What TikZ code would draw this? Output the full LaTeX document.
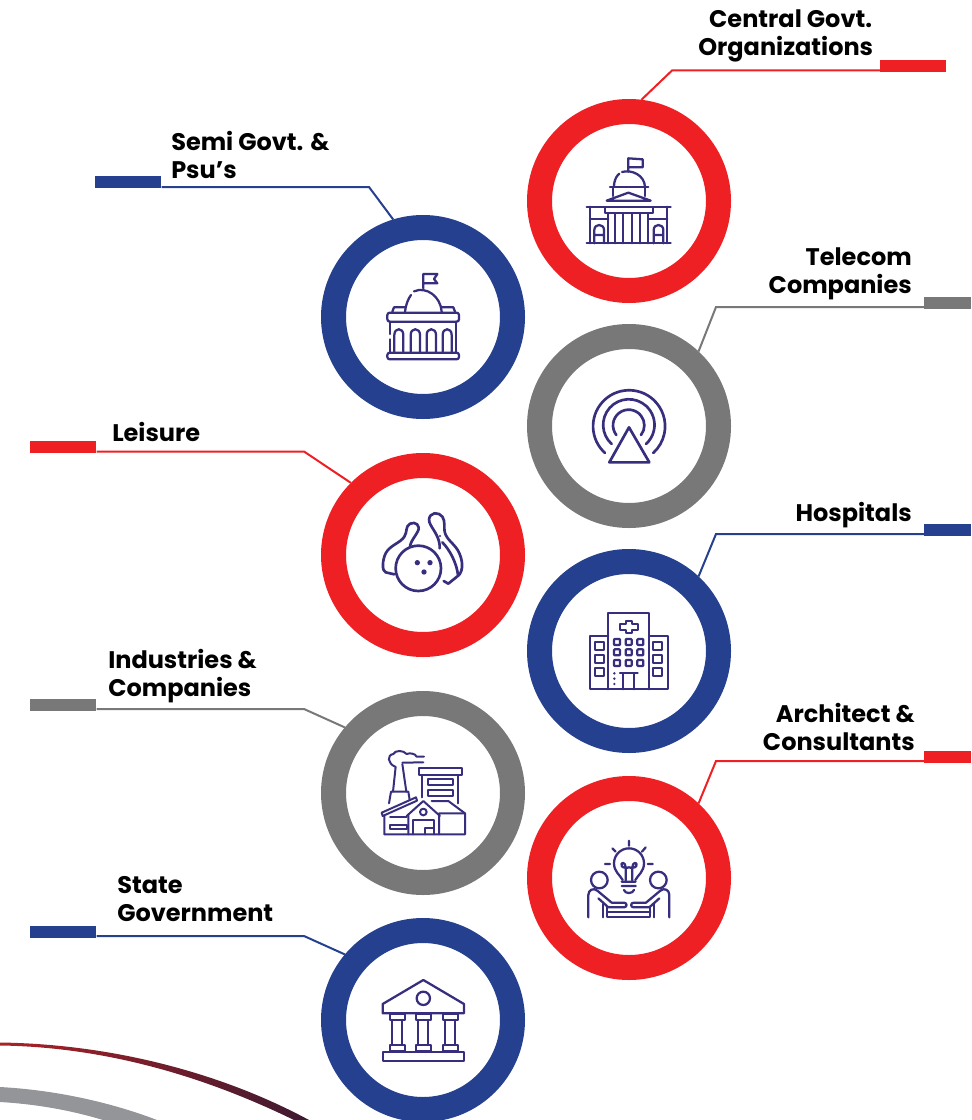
\documentclass[tikz,border=0pt]{standalone}
\usepackage{fontspec}
\setmainfont{Poppins}
\definecolor{cred}{HTML}{EE2024}
\definecolor{cblue}{HTML}{24408E}
\definecolor{cgray}{HTML}{777877}
\definecolor{cicon}{HTML}{372F7D}
\definecolor{cband}{HTML}{939598}
\tikzset{
  x=.75pt,y=-.75pt,
  ring/.style={circle,draw=#1,line width=18.75pt,fill=white,minimum size=134.25pt,inner sep=0pt},
  barb/.style={fill=#1,inner sep=0pt,minimum height=9pt,anchor=north west},
  lead/.style={draw=#1,line width=1.5pt},
  lab/.style={font=\fontsize{18}{21}\selectfont\bfseries,inner sep=0pt,text=black},
  icon/.style={draw=cicon,line width=1.7pt,line cap=round,line join=round,fill=none},
  sc/.style={x=.25pt,y=-.25pt}
}
\begin{document}
\begin{tikzpicture}
\useasboundingbox (0,0) rectangle (971,1120);
\clip (0,0) rectangle (971,1120);
% background swooshes
\path[left color=cred!70!black!95,right color=cred!30!black!70!cblue,shading angle=90] (0,1042.5) .. controls (110,1044) and (220,1072) .. (309,1120) -- (294,1120) .. controls (210,1079) and (110,1047) .. (0,1045.5) -- cycle;
\fill[cband] (0,1087) .. controls (55,1090) and (110,1102) .. (157,1120) -- (103,1120) .. controls (70,1110) and (35,1104) .. (0,1102) -- cycle;
% rings
\node[ring=cred]  (c1) at (629,201) {};
\node[ring=cblue] (c2) at (423,317) {};
\node[ring=cgray] (c3) at (629,426) {};
\node[ring=cred]  (c4) at (423,555) {};
\node[ring=cblue] (c5) at (629,651) {};
\node[ring=cgray] (c6) at (423,793) {};
\node[ring=cred]  (c7) at (629,878) {};
\node[ring=cblue] (c8) at (423,1020) {};
% bars
\node[barb=cred,minimum width=49.5pt]  (b1) at (880,60) {};
\node[barb=cblue,minimum width=49.5pt] (b2) at (95,176) {};
\node[barb=cgray,minimum width=35.25pt] (b3) at (924,297) {};
\node[barb=cred,minimum width=49.5pt]  (b4) at (30,441) {};
\node[barb=cblue,minimum width=35.25pt] (b5) at (924,524) {};
\node[barb=cgray,minimum width=49.5pt] (b6) at (30,699) {};
\node[barb=cred,minimum width=35.25pt] (b7) at (924,751) {};
\node[barb=cblue,minimum width=49.5pt] (b8) at (30,926) {};
% bends
\coordinate (k1) at (672,70.5);
\coordinate (k2) at (369,187);
\coordinate (k3) at (716,307);
\coordinate (k4) at (304,451.5);
\coordinate (k5) at (716,534);
\coordinate (k6) at (304,709);
\coordinate (k7) at (716,761);
\coordinate (k8) at (304,936);
% leaders
\draw[lead=cred]  (b1.west |- k1) -- (k1) -- (c1.83);
\draw[lead=cblue] (b2.east |- k2) -- (k2) -- (c2.107);
\draw[lead=cgray] (b3.west |- k3) -- (k3) -- (c3.47);
\draw[lead=cred]  (b4.east |- k4) -- (k4) -- (c4.135);
\draw[lead=cblue] (b5.west |- k5) -- (k5) -- (c5.47);
\draw[lead=cgray] (b6.east |- k6) -- (k6) -- (c6.140);
\draw[lead=cred]  (b7.west |- k7) -- (k7) -- (c7.47);
\draw[lead=cblue] (b8.east |- k8) -- (k8) -- (c8.140);
% labels
\node[lab,anchor=west,align=left] (t1) at (698,36) {\hspace*{8.2pt}Central Govt.\\Organizations};
\node[lab,anchor=west,align=left] (t2) at (171,155) {Semi Govt. \&\\Psu’s};
\node[lab,anchor=east,align=right] (t3) at (912,274) {Telecom\\Companies};
\node[lab,anchor=west] (t4) at (112,432) {Leisure};
\node[lab,anchor=east] (t5) at (912,515) {Hospitals};
\node[lab,anchor=west,align=left] (t6) at (108,676) {Industries \&\\Companies};
\node[lab,anchor=east,align=right] (t7) at (915,727) {Architect \&\\Consultants};
\node[lab,anchor=west,align=left] (t8) at (117,899) {State\\Government};
% icon 1
\begin{scope}[shift={(560,130)},sc]
\draw[icon] (205,125)--(205,85)--(248,88)--(248,112)--(205,112);
\draw[icon] (162,170) .. controls (162,148) and (172,135) .. (178,131);
\draw[icon] (186,126) .. controls (215,118) and (253,135) .. (255,170);
\draw[icon] (150,172)--(265,172) (160,172)--(160,198) (255,172)--(255,198);
\draw[icon] (140,212)--(205,188)--(272,212)--cycle;
\draw[icon] (80,230)--(332,230) (90,230)--(90,340) (322,230)--(322,340) (80,340)--(332,340);
\draw[icon] (90,268)--(145,268) (265,268)--(322,268);
\draw[icon] (135,235)--(135,248)--(278,248)--(278,235);
\draw[icon] (145,250)--(145,340) (165,250)--(165,340) (190,250)--(190,340) (215,250)--(215,340) (240,250)--(240,340) (265,250)--(265,340);
\draw[icon] (103,340)--(103,300) .. controls (103,280) and (132,280) .. (132,300)--(132,340) (103,315)--(132,315);
\draw[icon] (281,340)--(281,300) .. controls (281,280) and (310,280) .. (310,300)--(310,340) (281,315)--(310,315);
\end{scope}
% icon 2
\begin{scope}[shift={(360,250)},sc]
\draw[icon] (190,115)--(190,72)--(232,72)--(222,87)--(232,100)--(190,100);
\draw[icon] (135,185) .. controls (137,165) and (145,145) .. (153,135);
\draw[icon] (162,124) .. controls (200,108) and (242,140) .. (245,185);
\draw[icon] (97,185)--(102,172)--(135,172) (245,172)--(280,172)--(285,185);
\draw[icon,rounded corners=6pt*.3] (82,188) rectangle (297,215);
\draw[icon,rounded corners=6pt*.3] (82,308) rectangle (297,328);
\draw[icon] (90,215)--(90,252) (90,268)--(90,308) (288,215)--(288,308);
\foreach \a/\b in {103/130,152/180,200/228,248/275}{
  \draw[icon] (\a,305)--(\a,255) .. controls (\a,232) and (\b,232) .. (\b,255)--(\b,305);
}
\end{scope}
% icon 3
\begin{scope}[shift={(570,370)},sc]
\draw[icon,line width=2pt] (177,172)--(238,277)--(118,277)--cycle;
\draw[icon,line width=2pt] (105,249) arc[start angle=132,end angle=408,radius=108];
\draw[icon,line width=2pt] (125,222) arc[start angle=132,end angle=408,radius=77];
\draw[icon,line width=2pt] (139,195) arc[start angle=142,end angle=398,radius=47];
\end{scope}
% icon 4
\begin{scope}[shift={(365,495)},sc]
\draw[icon,line width=2pt] (160,220) circle[radius=68];
\fill[cicon] (157,203) circle[radius=8] (195,203) circle[radius=8] (177,231) circle[radius=8];
\draw[icon,line width=2pt] (88,238) -- (62,232) .. controls (50,228) and (52,195) .. (62,175) .. controls (75,150) and (105,145) .. (118,125) .. controls (128,110) and (120,95) .. (135,86) .. controls (152,78) and (168,92) .. (158,110) .. controls (150,125) and (140,135) .. (135,152);
\draw[icon,line width=2pt] (224,160) .. controls (226,130) and (205,105) .. (197,90) .. controls (182,65) and (205,48) .. (222,57) .. controls (240,65) and (238,85) .. (238,100) .. controls (238,130) and (262,140) .. (278,165) .. controls (295,195) and (295,225) .. (282,240) -- (250,266) -- (236,258);
\draw[icon,line width=2pt] (232,142) .. controls (255,165) and (275,205) .. (279,240);
\fill[cicon] (225,123) circle[radius=3.5];
\end{scope}
% icon 5
\begin{scope}[shift={(570,600)},sc]
\draw[icon] (115,268)--(115,40)--(237,40)--(237,268);
\draw[icon] (115,108)--(60,108)--(60,268)--(293,268)--(293,108)--(237,108);
\draw[icon] (167,70)--(167,62)--(185,62)--(185,71)--(203,71)--(203,89)--(185,89)--(185,99)--(167,99)--(167,89)--(150,89)--(150,71)--(167,71)--cycle;
\foreach \cx in {141,176,211}\foreach \cy in {126,157,189}{
  \draw[icon,rounded corners=.6pt] (\cx-9,\cy-9) rectangle (\cx+9,\cy+9);
}
\foreach \cx in {89,263}\foreach \cy in {138,177,216}{
  \draw[icon] (\cx-13,\cy-13) rectangle (\cx+13,\cy+13);
}
\draw[icon] (150,220)--(203,220) (158,220)--(158,268) (192,220)--(192,268);
\fill[cicon] (133,220) circle[radius=4] (133,236) circle[radius=4] (133,252) circle[radius=4];
\end{scope}
% icon 6
\begin{scope}[shift={(365,740)},sc]
\begin{scope}[icon/.append style={line width=1.5pt}]
\draw[icon] (72,190)--(78,155)--(130,155)--(134,180);
\draw[icon] (84,155)--(92,80) (112,72)--(124,155);
\draw[icon] (90,80) .. controls (68,70) and (65,45) .. (85,42) .. controls (90,30) and (115,30) .. (125,42) .. controls (135,38) and (150,40) .. (155,50)--(177,50);
\draw[icon] (112,68)--(175,67);
\draw[icon] (163,85) rectangle (290,105);
\draw[icon] (172,105)--(172,172) (280,105)--(280,190);
\draw[icon] (188,118) rectangle (263,135);
\draw[icon] (188,150) rectangle (263,167);
\draw[icon] (50,218)--(153,172)--(156,182)--(53,228)--cycle;
\draw[icon] (58,228)--(58,283)--(300,283)--(300,220)--(250,183)--(200,183);
\draw[icon] (75,232)--(125,232) (75,255)--(125,255)--(125,268)--(75,268)--cycle;
\draw[icon] (125,228)--(175,183)--(225,228) (130,225)--(130,283) (222,222)--(222,283) (222,220)--(300,220);
\draw[icon] (175,216) circle[radius=10];
\draw[icon] (143,283)--(143,240)--(208,240)--(208,283) (180,283)--(180,265)--(205,265);
\end{scope}
\end{scope}
% icon 7
\begin{scope}[shift={(570,830)},sc]
\draw[icon] (158,150) .. controls (150,135) and (132,125) .. (132,100) .. controls (132,75) and (152,55) .. (177,55) .. controls (202,55) and (222,75) .. (222,100) .. controls (222,125) and (204,135) .. (196,150);
\draw[icon] (155,155)--(197,155) (155,168)--(197,168) (162,180) .. controls (165,192) and (188,192) .. (192,180);
\draw[icon] (167,152)--(167,112) .. controls (167,95) and (150,95) .. (155,108) .. controls (158,114) and (172,114) .. (177,112) .. controls (182,114) and (196,114) .. (199,108) .. controls (204,95) and (187,95) .. (187,112)--(187,152);
\draw[icon] (177,32)--(177,47) (127,55)--(137,65) (227,52)--(216,65) (105,102)--(120,102) (233,102)--(248,102);
\draw[icon] (88,150) circle[radius=25];
\draw[icon] (265,150) circle[radius=25];
\draw[icon] (55,262)--(55,195) .. controls (55,180) and (70,172) .. (82,182)--(125,218)--(162,218) .. controls (172,218) and (172,232) .. (162,232)--(115,232)--(85,205);
\draw[icon] (298,262)--(298,195) .. controls (298,180) and (283,172) .. (271,182)--(228,218)--(191,218) .. controls (181,218) and (181,232) .. (191,232)--(238,232)--(268,205);
\draw[icon] (100,222)--(100,262) (253,222)--(253,262);
\draw[icon] (112,232)--(112,262)--(241,262)--(241,232) (112,245)--(241,245);
\end{scope}
% icon 8
\begin{scope}[shift={(365,965)},sc]
\draw[icon] (175,45)--(297,117)--(297,145)--(53,145)--(53,117)--cycle;
\draw[icon] (175,100) circle[radius=20];
\foreach \cx in {97,175,256}{
  \draw[icon] (\cx-23,148) rectangle (\cx+23,165);
  \draw[icon] (\cx-15,165)--(\cx-15,240) (\cx+15,165)--(\cx+15,240);
  \draw[icon] (\cx-23,240) rectangle (\cx+23,258);
}
\draw[icon] (53,260) rectangle (297,287);
\end{scope}
\end{tikzpicture}
\end{document}
